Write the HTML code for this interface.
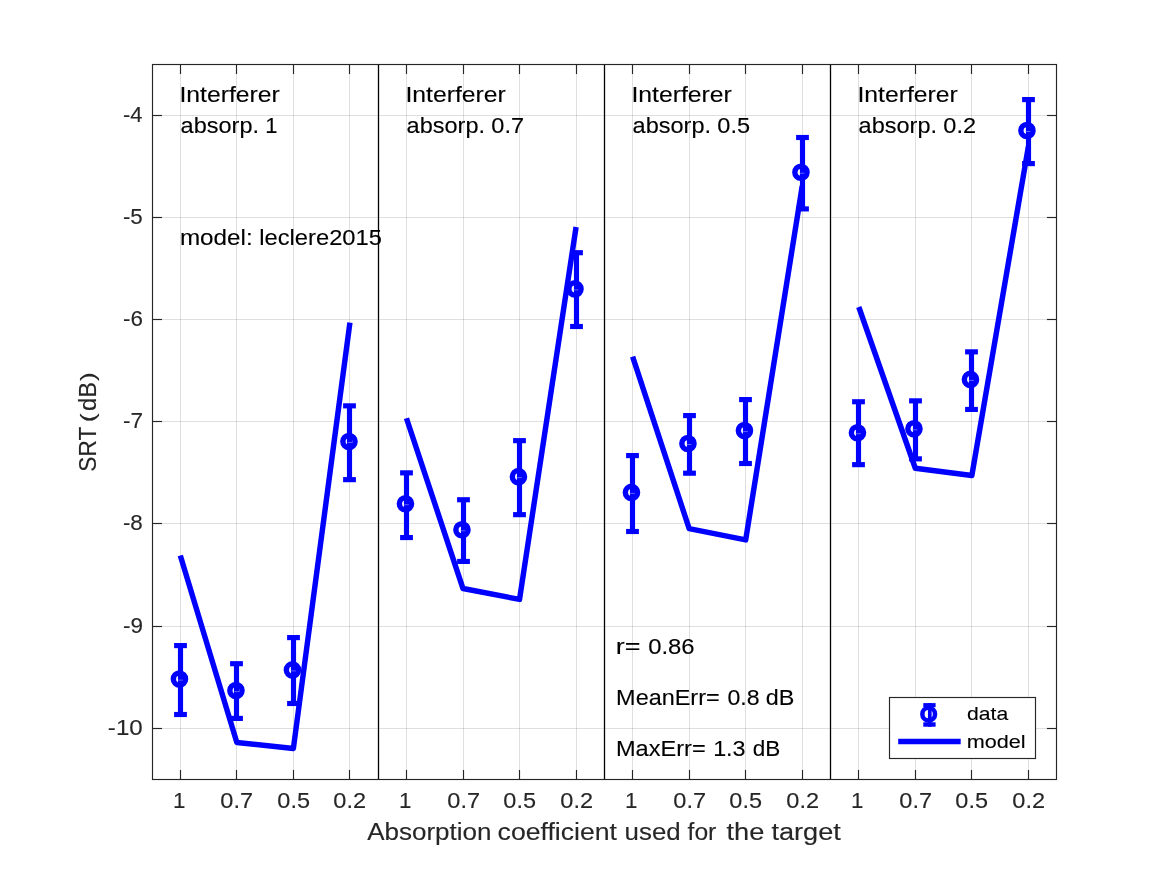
<!DOCTYPE html>
<html><head><meta charset="utf-8"><title>SRT</title>
<style>html,body{margin:0;padding:0;background:#fff;}svg{display:block;will-change:transform;}text{font-family:"Liberation Sans",sans-serif;}</style>
</head><body>
<svg width="1167" height="875" viewBox="0 0 1167 875">
<rect x="0" y="0" width="1167" height="875" fill="#ffffff"/>
<g stroke="#262626" stroke-opacity="0.15" stroke-width="1" shape-rendering="crispEdges">
<line x1="180.5" y1="64.5" x2="180.5" y2="779.5"/>
<line x1="236.5" y1="64.5" x2="236.5" y2="779.5"/>
<line x1="293.5" y1="64.5" x2="293.5" y2="779.5"/>
<line x1="349.5" y1="64.5" x2="349.5" y2="779.5"/>
<line x1="406.5" y1="64.5" x2="406.5" y2="779.5"/>
<line x1="463.5" y1="64.5" x2="463.5" y2="779.5"/>
<line x1="519.5" y1="64.5" x2="519.5" y2="779.5"/>
<line x1="576.5" y1="64.5" x2="576.5" y2="779.5"/>
<line x1="632.5" y1="64.5" x2="632.5" y2="779.5"/>
<line x1="689.5" y1="64.5" x2="689.5" y2="779.5"/>
<line x1="745.5" y1="64.5" x2="745.5" y2="779.5"/>
<line x1="802.5" y1="64.5" x2="802.5" y2="779.5"/>
<line x1="858.5" y1="64.5" x2="858.5" y2="779.5"/>
<line x1="915.5" y1="64.5" x2="915.5" y2="779.5"/>
<line x1="971.5" y1="64.5" x2="971.5" y2="779.5"/>
<line x1="1028.5" y1="64.5" x2="1028.5" y2="779.5"/>
<line x1="152.5" y1="115.5" x2="1056.5" y2="115.5"/>
<line x1="152.5" y1="217.5" x2="1056.5" y2="217.5"/>
<line x1="152.5" y1="319.5" x2="1056.5" y2="319.5"/>
<line x1="152.5" y1="421.5" x2="1056.5" y2="421.5"/>
<line x1="152.5" y1="523.5" x2="1056.5" y2="523.5"/>
<line x1="152.5" y1="626.5" x2="1056.5" y2="626.5"/>
<line x1="152.5" y1="728.5" x2="1056.5" y2="728.5"/>
</g>
<g stroke="#000" stroke-width="1.3">
<line x1="378.5" y1="64.5" x2="378.5" y2="779.5"/>
<line x1="604.5" y1="64.5" x2="604.5" y2="779.5"/>
<line x1="830.5" y1="64.5" x2="830.5" y2="779.5"/>
</g>
<g stroke="#0000ff" fill="none" stroke-width="5.45">
<line x1="180.50" y1="645.60" x2="180.50" y2="714.50" stroke-width="5.15"/>
<line x1="174.10" y1="645.60" x2="186.90" y2="645.60" stroke-width="5.15"/>
<line x1="174.10" y1="714.50" x2="186.90" y2="714.50" stroke-width="5.15"/>
<circle cx="179.45" cy="679.10" r="6.1"/>
<line x1="236.50" y1="663.70" x2="236.50" y2="718.40" stroke-width="5.15"/>
<line x1="230.10" y1="663.70" x2="242.90" y2="663.70" stroke-width="5.15"/>
<line x1="230.10" y1="718.40" x2="242.90" y2="718.40" stroke-width="5.15"/>
<circle cx="235.95" cy="690.60" r="6.1"/>
<line x1="293.50" y1="637.60" x2="293.50" y2="703.50" stroke-width="5.15"/>
<line x1="287.10" y1="637.60" x2="299.90" y2="637.60" stroke-width="5.15"/>
<line x1="287.10" y1="703.50" x2="299.90" y2="703.50" stroke-width="5.15"/>
<circle cx="292.45" cy="669.90" r="6.1"/>
<line x1="349.50" y1="405.85" x2="349.50" y2="479.65" stroke-width="5.15"/>
<line x1="343.10" y1="405.85" x2="355.90" y2="405.85" stroke-width="5.15"/>
<line x1="343.10" y1="479.65" x2="355.90" y2="479.65" stroke-width="5.15"/>
<circle cx="348.95" cy="441.50" r="6.1"/>
<line x1="406.50" y1="472.85" x2="406.50" y2="537.55" stroke-width="5.15"/>
<line x1="400.10" y1="472.85" x2="412.90" y2="472.85" stroke-width="5.15"/>
<line x1="400.10" y1="537.55" x2="412.90" y2="537.55" stroke-width="5.15"/>
<circle cx="405.45" cy="503.75" r="6.1"/>
<line x1="463.50" y1="499.75" x2="463.50" y2="561.45" stroke-width="5.15"/>
<line x1="457.10" y1="499.75" x2="469.90" y2="499.75" stroke-width="5.15"/>
<line x1="457.10" y1="561.45" x2="469.90" y2="561.45" stroke-width="5.15"/>
<circle cx="461.95" cy="529.75" r="6.1"/>
<line x1="519.50" y1="440.65" x2="519.50" y2="514.65" stroke-width="5.15"/>
<line x1="513.10" y1="440.65" x2="525.90" y2="440.65" stroke-width="5.15"/>
<line x1="513.10" y1="514.65" x2="525.90" y2="514.65" stroke-width="5.15"/>
<circle cx="518.45" cy="476.65" r="6.1"/>
<line x1="576.50" y1="252.70" x2="576.50" y2="326.50" stroke-width="5.15"/>
<line x1="570.10" y1="252.70" x2="582.90" y2="252.70" stroke-width="5.15"/>
<line x1="570.10" y1="326.50" x2="582.90" y2="326.50" stroke-width="5.15"/>
<circle cx="574.95" cy="288.90" r="6.1"/>
<line x1="632.50" y1="455.60" x2="632.50" y2="531.50" stroke-width="5.15"/>
<line x1="626.10" y1="455.60" x2="638.90" y2="455.60" stroke-width="5.15"/>
<line x1="626.10" y1="531.50" x2="638.90" y2="531.50" stroke-width="5.15"/>
<circle cx="631.45" cy="492.40" r="6.1"/>
<line x1="689.50" y1="415.60" x2="689.50" y2="473.20" stroke-width="5.15"/>
<line x1="683.10" y1="415.60" x2="695.90" y2="415.60" stroke-width="5.15"/>
<line x1="683.10" y1="473.20" x2="695.90" y2="473.20" stroke-width="5.15"/>
<circle cx="687.95" cy="443.50" r="6.1"/>
<line x1="745.50" y1="399.60" x2="745.50" y2="463.50" stroke-width="5.15"/>
<line x1="739.10" y1="399.60" x2="751.90" y2="399.60" stroke-width="5.15"/>
<line x1="739.10" y1="463.50" x2="751.90" y2="463.50" stroke-width="5.15"/>
<circle cx="744.45" cy="430.60" r="6.1"/>
<line x1="802.50" y1="137.50" x2="802.50" y2="208.90" stroke-width="5.15"/>
<line x1="796.10" y1="137.50" x2="808.90" y2="137.50" stroke-width="5.15"/>
<line x1="796.10" y1="208.90" x2="808.90" y2="208.90" stroke-width="5.15"/>
<circle cx="800.95" cy="172.25" r="6.1"/>
<line x1="858.50" y1="401.75" x2="858.50" y2="464.65" stroke-width="5.15"/>
<line x1="852.10" y1="401.75" x2="864.90" y2="401.75" stroke-width="5.15"/>
<line x1="852.10" y1="464.65" x2="864.90" y2="464.65" stroke-width="5.15"/>
<circle cx="857.45" cy="432.75" r="6.1"/>
<line x1="915.50" y1="400.85" x2="915.50" y2="458.85" stroke-width="5.15"/>
<line x1="909.10" y1="400.85" x2="921.90" y2="400.85" stroke-width="5.15"/>
<line x1="909.10" y1="458.85" x2="921.90" y2="458.85" stroke-width="5.15"/>
<circle cx="913.95" cy="428.85" r="6.1"/>
<line x1="971.50" y1="351.85" x2="971.50" y2="409.45" stroke-width="5.15"/>
<line x1="965.10" y1="351.85" x2="977.90" y2="351.85" stroke-width="5.15"/>
<line x1="965.10" y1="409.45" x2="977.90" y2="409.45" stroke-width="5.15"/>
<circle cx="970.45" cy="379.40" r="6.1"/>
<line x1="1028.50" y1="99.60" x2="1028.50" y2="163.60" stroke-width="5.15"/>
<line x1="1022.10" y1="99.60" x2="1034.90" y2="99.60" stroke-width="5.15"/>
<line x1="1022.10" y1="163.60" x2="1034.90" y2="163.60" stroke-width="5.15"/>
<circle cx="1026.95" cy="130.50" r="6.1"/>
</g><g stroke="#8a8aff" stroke-width="0.7" fill="none">
<line x1="178.15" y1="680.10" x2="182.85" y2="680.10"/>
<line x1="234.65" y1="691.60" x2="239.35" y2="691.60"/>
<line x1="291.15" y1="670.90" x2="295.85" y2="670.90"/>
<line x1="347.65" y1="442.50" x2="352.35" y2="442.50"/>
<line x1="404.15" y1="504.75" x2="408.85" y2="504.75"/>
<line x1="460.65" y1="530.75" x2="465.35" y2="530.75"/>
<line x1="517.15" y1="477.65" x2="521.85" y2="477.65"/>
<line x1="573.65" y1="289.90" x2="578.35" y2="289.90"/>
<line x1="630.15" y1="493.40" x2="634.85" y2="493.40"/>
<line x1="686.65" y1="444.50" x2="691.35" y2="444.50"/>
<line x1="743.15" y1="431.60" x2="747.85" y2="431.60"/>
<line x1="799.65" y1="173.25" x2="804.35" y2="173.25"/>
<line x1="856.15" y1="433.75" x2="860.85" y2="433.75"/>
<line x1="912.65" y1="429.85" x2="917.35" y2="429.85"/>
<line x1="969.15" y1="380.40" x2="973.85" y2="380.40"/>
<line x1="1025.65" y1="131.50" x2="1030.35" y2="131.50"/>
</g><g stroke="#0000ff" fill="none" stroke-width="5.45">
<polyline points="180.30,555.50 236.84,742.45 293.38,748.50 349.92,322.55" stroke-linejoin="round" stroke-linecap="butt"/>
<polyline points="406.46,418.25 463.00,588.55 519.54,599.40 576.08,227.00" stroke-linejoin="round" stroke-linecap="butt"/>
<polyline points="632.62,356.70 689.16,528.60 745.70,539.90 802.24,186.00" stroke-linejoin="round" stroke-linecap="butt"/>
<polyline points="858.78,307.00 915.32,468.25 971.86,475.45 1028.40,146.40" stroke-linejoin="round" stroke-linecap="butt"/>
</g>
<g stroke="#262626" stroke-width="1.15" fill="none">
<rect x="152.5" y="64.5" width="904.0" height="715.0"/>
<line x1="180.5" y1="779.5" x2="180.5" y2="770.0"/>
<line x1="180.5" y1="64.5" x2="180.5" y2="74.0"/>
<line x1="236.5" y1="779.5" x2="236.5" y2="770.0"/>
<line x1="236.5" y1="64.5" x2="236.5" y2="74.0"/>
<line x1="293.5" y1="779.5" x2="293.5" y2="770.0"/>
<line x1="293.5" y1="64.5" x2="293.5" y2="74.0"/>
<line x1="349.5" y1="779.5" x2="349.5" y2="770.0"/>
<line x1="349.5" y1="64.5" x2="349.5" y2="74.0"/>
<line x1="406.5" y1="779.5" x2="406.5" y2="770.0"/>
<line x1="406.5" y1="64.5" x2="406.5" y2="74.0"/>
<line x1="463.5" y1="779.5" x2="463.5" y2="770.0"/>
<line x1="463.5" y1="64.5" x2="463.5" y2="74.0"/>
<line x1="519.5" y1="779.5" x2="519.5" y2="770.0"/>
<line x1="519.5" y1="64.5" x2="519.5" y2="74.0"/>
<line x1="576.5" y1="779.5" x2="576.5" y2="770.0"/>
<line x1="576.5" y1="64.5" x2="576.5" y2="74.0"/>
<line x1="632.5" y1="779.5" x2="632.5" y2="770.0"/>
<line x1="632.5" y1="64.5" x2="632.5" y2="74.0"/>
<line x1="689.5" y1="779.5" x2="689.5" y2="770.0"/>
<line x1="689.5" y1="64.5" x2="689.5" y2="74.0"/>
<line x1="745.5" y1="779.5" x2="745.5" y2="770.0"/>
<line x1="745.5" y1="64.5" x2="745.5" y2="74.0"/>
<line x1="802.5" y1="779.5" x2="802.5" y2="770.0"/>
<line x1="802.5" y1="64.5" x2="802.5" y2="74.0"/>
<line x1="858.5" y1="779.5" x2="858.5" y2="770.0"/>
<line x1="858.5" y1="64.5" x2="858.5" y2="74.0"/>
<line x1="915.5" y1="779.5" x2="915.5" y2="770.0"/>
<line x1="915.5" y1="64.5" x2="915.5" y2="74.0"/>
<line x1="971.5" y1="779.5" x2="971.5" y2="770.0"/>
<line x1="971.5" y1="64.5" x2="971.5" y2="74.0"/>
<line x1="1028.5" y1="779.5" x2="1028.5" y2="770.0"/>
<line x1="1028.5" y1="64.5" x2="1028.5" y2="74.0"/>
<line x1="152.5" y1="115.5" x2="162.0" y2="115.5"/>
<line x1="1056.5" y1="115.5" x2="1047.0" y2="115.5"/>
<line x1="152.5" y1="217.5" x2="162.0" y2="217.5"/>
<line x1="1056.5" y1="217.5" x2="1047.0" y2="217.5"/>
<line x1="152.5" y1="319.5" x2="162.0" y2="319.5"/>
<line x1="1056.5" y1="319.5" x2="1047.0" y2="319.5"/>
<line x1="152.5" y1="421.5" x2="162.0" y2="421.5"/>
<line x1="1056.5" y1="421.5" x2="1047.0" y2="421.5"/>
<line x1="152.5" y1="523.5" x2="162.0" y2="523.5"/>
<line x1="1056.5" y1="523.5" x2="1047.0" y2="523.5"/>
<line x1="152.5" y1="626.5" x2="162.0" y2="626.5"/>
<line x1="1056.5" y1="626.5" x2="1047.0" y2="626.5"/>
<line x1="152.5" y1="728.5" x2="162.0" y2="728.5"/>
<line x1="1056.5" y1="728.5" x2="1047.0" y2="728.5"/>
</g>
<text x="179.46" y="101.90" font-size="21.7px" fill="#000" stroke="#000" stroke-width="0.12" textLength="100.37" lengthAdjust="spacingAndGlyphs">Interferer</text>
<text x="180.63" y="132.80" font-size="21.7px" fill="#000" stroke="#000" stroke-width="0.12" textLength="78.41" lengthAdjust="spacingAndGlyphs">absorp.</text>
<text x="265.19" y="132.80" font-size="21.7px" fill="#000" stroke="#000" stroke-width="0.12" textLength="12.19" lengthAdjust="spacingAndGlyphs">1</text>
<text x="405.46" y="101.90" font-size="21.7px" fill="#000" stroke="#000" stroke-width="0.12" textLength="100.37" lengthAdjust="spacingAndGlyphs">Interferer</text>
<text x="406.63" y="132.80" font-size="21.7px" fill="#000" stroke="#000" stroke-width="0.12" textLength="78.41" lengthAdjust="spacingAndGlyphs">absorp.</text>
<text x="491.29" y="132.80" font-size="21.7px" fill="#000" stroke="#000" stroke-width="0.12" textLength="32.76" lengthAdjust="spacingAndGlyphs">0.7</text>
<text x="631.46" y="101.90" font-size="21.7px" fill="#000" stroke="#000" stroke-width="0.12" textLength="100.37" lengthAdjust="spacingAndGlyphs">Interferer</text>
<text x="632.63" y="132.80" font-size="21.7px" fill="#000" stroke="#000" stroke-width="0.12" textLength="78.41" lengthAdjust="spacingAndGlyphs">absorp.</text>
<text x="717.32" y="132.80" font-size="21.7px" fill="#000" stroke="#000" stroke-width="0.12" textLength="32.74" lengthAdjust="spacingAndGlyphs">0.5</text>
<text x="857.46" y="101.90" font-size="21.7px" fill="#000" stroke="#000" stroke-width="0.12" textLength="100.37" lengthAdjust="spacingAndGlyphs">Interferer</text>
<text x="858.63" y="132.80" font-size="21.7px" fill="#000" stroke="#000" stroke-width="0.12" textLength="78.41" lengthAdjust="spacingAndGlyphs">absorp.</text>
<text x="943.29" y="132.80" font-size="21.7px" fill="#000" stroke="#000" stroke-width="0.12" textLength="32.76" lengthAdjust="spacingAndGlyphs">0.2</text>
<text x="179.91" y="244.60" font-size="21.7px" fill="#000" stroke="#000" stroke-width="0.12" textLength="72.74" lengthAdjust="spacingAndGlyphs">model:</text>
<text x="259.28" y="244.60" font-size="21.7px" fill="#000" stroke="#000" stroke-width="0.12" textLength="122.63" lengthAdjust="spacingAndGlyphs">leclere2015</text>
<text x="615.81" y="653.80" font-size="21.7px" fill="#000" stroke="#000" stroke-width="0.12" textLength="24.71" lengthAdjust="spacingAndGlyphs">r=</text>
<text x="648.22" y="653.80" font-size="21.7px" fill="#000" stroke="#000" stroke-width="0.12" textLength="46.42" lengthAdjust="spacingAndGlyphs">0.86</text>
<text x="616.14" y="705.10" font-size="21.7px" fill="#000" stroke="#000" stroke-width="0.12" textLength="103.54" lengthAdjust="spacingAndGlyphs">MeanErr=</text>
<text x="727.49" y="705.10" font-size="21.7px" fill="#000" stroke="#000" stroke-width="0.12" textLength="32.09" lengthAdjust="spacingAndGlyphs">0.8</text>
<text x="765.84" y="705.10" font-size="21.7px" fill="#000" stroke="#000" stroke-width="0.12" textLength="28.61" lengthAdjust="spacingAndGlyphs">dB</text>
<text x="615.91" y="756.40" font-size="21.7px" fill="#000" stroke="#000" stroke-width="0.12" textLength="89.74" lengthAdjust="spacingAndGlyphs">MaxErr=</text>
<text x="713.15" y="756.40" font-size="21.7px" fill="#000" stroke="#000" stroke-width="0.12" textLength="32.45" lengthAdjust="spacingAndGlyphs">1.3</text>
<text x="752.72" y="756.40" font-size="21.7px" fill="#000" stroke="#000" stroke-width="0.12" textLength="27.58" lengthAdjust="spacingAndGlyphs">dB</text>
<text x="172.9" y="807.50" font-size="21.3px" fill="#262626" stroke="#262626" stroke-width="0.12" textLength="12.45" lengthAdjust="spacingAndGlyphs">1</text>
<text x="220.3" y="807.50" font-size="21.3px" fill="#262626" stroke="#262626" stroke-width="0.12" textLength="32.77" lengthAdjust="spacingAndGlyphs">0.7</text>
<text x="277.33" y="807.50" font-size="21.3px" fill="#262626" stroke="#262626" stroke-width="0.12" textLength="32.64" lengthAdjust="spacingAndGlyphs">0.5</text>
<text x="333.3" y="807.50" font-size="21.3px" fill="#262626" stroke="#262626" stroke-width="0.12" textLength="32.77" lengthAdjust="spacingAndGlyphs">0.2</text>
<text x="398.9" y="807.50" font-size="21.3px" fill="#262626" stroke="#262626" stroke-width="0.12" textLength="12.45" lengthAdjust="spacingAndGlyphs">1</text>
<text x="447.3" y="807.50" font-size="21.3px" fill="#262626" stroke="#262626" stroke-width="0.12" textLength="32.77" lengthAdjust="spacingAndGlyphs">0.7</text>
<text x="503.33" y="807.50" font-size="21.3px" fill="#262626" stroke="#262626" stroke-width="0.12" textLength="32.64" lengthAdjust="spacingAndGlyphs">0.5</text>
<text x="560.3" y="807.50" font-size="21.3px" fill="#262626" stroke="#262626" stroke-width="0.12" textLength="32.77" lengthAdjust="spacingAndGlyphs">0.2</text>
<text x="624.9" y="807.50" font-size="21.3px" fill="#262626" stroke="#262626" stroke-width="0.12" textLength="12.45" lengthAdjust="spacingAndGlyphs">1</text>
<text x="673.3" y="807.50" font-size="21.3px" fill="#262626" stroke="#262626" stroke-width="0.12" textLength="32.77" lengthAdjust="spacingAndGlyphs">0.7</text>
<text x="729.33" y="807.50" font-size="21.3px" fill="#262626" stroke="#262626" stroke-width="0.12" textLength="32.64" lengthAdjust="spacingAndGlyphs">0.5</text>
<text x="786.3" y="807.50" font-size="21.3px" fill="#262626" stroke="#262626" stroke-width="0.12" textLength="32.77" lengthAdjust="spacingAndGlyphs">0.2</text>
<text x="850.9" y="807.50" font-size="21.3px" fill="#262626" stroke="#262626" stroke-width="0.12" textLength="12.45" lengthAdjust="spacingAndGlyphs">1</text>
<text x="899.3" y="807.50" font-size="21.3px" fill="#262626" stroke="#262626" stroke-width="0.12" textLength="32.77" lengthAdjust="spacingAndGlyphs">0.7</text>
<text x="955.33" y="807.50" font-size="21.3px" fill="#262626" stroke="#262626" stroke-width="0.12" textLength="32.64" lengthAdjust="spacingAndGlyphs">0.5</text>
<text x="1012.3" y="807.50" font-size="21.3px" fill="#262626" stroke="#262626" stroke-width="0.12" textLength="32.77" lengthAdjust="spacingAndGlyphs">0.2</text>
<text x="122.99" y="122.00" font-size="21.3px" fill="#262626" stroke="#262626" stroke-width="0.12" textLength="19.5" lengthAdjust="spacingAndGlyphs">-4</text>
<text x="122.95" y="224.00" font-size="21.3px" fill="#262626" stroke="#262626" stroke-width="0.12" textLength="19.82" lengthAdjust="spacingAndGlyphs">-5</text>
<text x="122.95" y="326.00" font-size="21.3px" fill="#262626" stroke="#262626" stroke-width="0.12" textLength="19.9" lengthAdjust="spacingAndGlyphs">-6</text>
<text x="122.95" y="428.00" font-size="21.3px" fill="#262626" stroke="#262626" stroke-width="0.12" textLength="20.0" lengthAdjust="spacingAndGlyphs">-7</text>
<text x="122.95" y="530.00" font-size="21.3px" fill="#262626" stroke="#262626" stroke-width="0.12" textLength="19.86" lengthAdjust="spacingAndGlyphs">-8</text>
<text x="122.95" y="633.00" font-size="21.3px" fill="#262626" stroke="#262626" stroke-width="0.12" textLength="19.97" lengthAdjust="spacingAndGlyphs">-9</text>
<text x="107.89" y="735.00" font-size="21.3px" fill="#262626" stroke="#262626" stroke-width="0.12" textLength="34.85" lengthAdjust="spacingAndGlyphs">-10</text>
<text x="367.15" y="840.10" font-size="23.0px" fill="#262626" stroke="#262626" stroke-width="0.12" textLength="124.4" lengthAdjust="spacingAndGlyphs">Absorption</text>
<text x="497.57" y="840.10" font-size="23.0px" fill="#262626" stroke="#262626" stroke-width="0.12" textLength="119.41" lengthAdjust="spacingAndGlyphs">coefficient</text>
<text x="624.59" y="840.10" font-size="23.0px" fill="#262626" stroke="#262626" stroke-width="0.12" textLength="56.06" lengthAdjust="spacingAndGlyphs">used</text>
<text x="687.55" y="840.10" font-size="23.0px" fill="#262626" stroke="#262626" stroke-width="0.12" textLength="28.79" lengthAdjust="spacingAndGlyphs">for</text>
<text x="726.4" y="840.10" font-size="23.0px" fill="#262626" stroke="#262626" stroke-width="0.12" textLength="37.96" lengthAdjust="spacingAndGlyphs">the</text>
<text x="771.4" y="840.10" font-size="23.0px" fill="#262626" stroke="#262626" stroke-width="0.12" textLength="69.49" lengthAdjust="spacingAndGlyphs">target</text>
<text transform="translate(95.9,470.4) rotate(-90)" x="-1.25" y="0" font-size="23.0px" fill="#262626" stroke="#262626" stroke-width="0.12" textLength="44.94" lengthAdjust="spacingAndGlyphs">SRT</text>
<text transform="translate(95.9,470.4) rotate(-90)" x="48.28" y="-1.0" font-size="20.5px" fill="#262626" stroke="#262626" stroke-width="0.12" textLength="8.9" lengthAdjust="spacingAndGlyphs">(</text>
<text transform="translate(95.9,470.4) rotate(-90)" x="59.38" y="0" font-size="23.0px" fill="#262626" stroke="#262626" stroke-width="0.12" textLength="29.11" lengthAdjust="spacingAndGlyphs">dB</text>
<text transform="translate(95.9,470.4) rotate(-90)" x="89.43" y="-1.0" font-size="20.5px" fill="#262626" stroke="#262626" stroke-width="0.12" textLength="8.85" lengthAdjust="spacingAndGlyphs">)</text>
<rect x="889.5" y="697.5" width="146" height="61" fill="#fff" stroke="#262626" stroke-width="1.15"/>
<g stroke="#0000ff" fill="none" stroke-width="5.45">
<line x1="898.2" y1="741.4" x2="960.7" y2="741.4"/>
<line x1="929.8" y1="703.1" x2="929.8" y2="726.7" stroke-width="3.7"/>
<rect x="923.3" y="703.1" width="12.3" height="4.1" fill="#0000ff" stroke="none"/>
<rect x="923.3" y="722.3" width="12.3" height="4.4" fill="#0000ff" stroke="none"/>
<circle cx="928.7" cy="714.2" r="6.35" stroke-width="4.5"/>
</g>
<text x="967.1" y="720.45" font-size="19.0px" fill="#000" stroke="#000" stroke-width="0.12" textLength="41.17" lengthAdjust="spacingAndGlyphs">data</text>
<text x="966.74" y="747.90" font-size="19.0px" fill="#000" stroke="#000" stroke-width="0.12" textLength="58.91" lengthAdjust="spacingAndGlyphs">model</text>
</svg>
</body></html>
